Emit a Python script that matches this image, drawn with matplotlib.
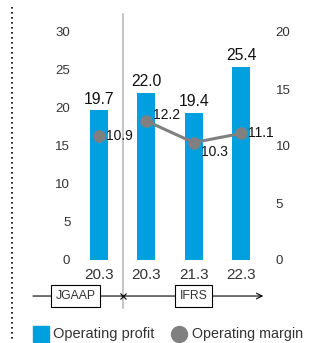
import matplotlib
matplotlib.use("Agg")
import matplotlib.pyplot as plt
from matplotlib.lines import Line2D
from matplotlib.patches import Rectangle

years = ["20.3", "20.3", "21.3", "22.3"]
operating_profit = [19.7, 22.0, 19.4, 25.4]
operating_margin = [10.9, 12.2, 10.3, 11.1]
left_ticks = [0, 5, 10, 15, 20, 25, 30]
right_ticks = [0, 5, 10, 15, 20]
standards = ["JGAAP", "IFRS"]

plt.rcParams['font.family'] = ['Liberation Sans', 'DejaVu Sans']
BLUE = "#00a0df"
GRAY = "#808080"
TXT = "#333333"

W, H = 329, 343
fig = plt.figure(figsize=(W / 100, H / 100), dpi=100)
ax_left, ax_right_px = 75.3, 264.7
ax_top, ax_bot = 32, 260
ax = fig.add_axes([ax_left / W, (H - ax_bot) / H, (ax_right_px - ax_left) / W, (ax_bot - ax_top) / H])
ax2 = ax.twinx()

x = list(range(len(years)))
ax.bar(x, operating_profit, width=0.38, color=BLUE, zorder=2)
ax.set_xlim(-0.5, 3.5)
ax.set_ylim(0, 30)
ax2.set_ylim(0, 20)
ax.set_yticks(left_ticks)
ax2.set_yticks(right_ticks)
ax.set_xticks(x)
ax.set_xticklabels(years)

for a in (ax, ax2):
    for s in a.spines.values():
        s.set_visible(False)
ax.tick_params(axis='y', length=0, pad=3.6, labelsize=9.5, labelcolor=TXT)
ax2.tick_params(axis='y', length=0, pad=8, labelsize=9.5, labelcolor=TXT)
ax.tick_params(axis='x', length=0, pad=5.5, labelsize=11, labelcolor=TXT)

for xi, v in zip(x, operating_profit):
    ax.annotate(f"{v:.1f}", (xi, v), xytext=(0, 2.5), textcoords="offset points",
                ha="center", va="bottom", fontsize=11.3, color="#111111")

# margin: standalone JGAAP point, connected IFRS points
ax2.plot(x[1:], operating_margin[1:], color=GRAY, lw=2.2, marker='o', ms=8, zorder=3)
ax2.plot(x[:1], operating_margin[:1], color=GRAY, lw=0, marker='o', ms=8, zorder=3)
offsets = [(5, 0), (5, 4), (5, -7), (5, 0)]
for xi, v, (dx, dy) in zip(x, operating_margin, offsets):
    ax2.annotate(f"{v:.1f}", (xi, v), xytext=(dx, dy), textcoords="offset points",
                 ha="left", va="center", fontsize=10, color="#111111")

# separator line
ax.plot([0.5, 0.5], [1.079, -0.21], transform=ax.get_xaxis_transform(), color="#bbbbbb",
        lw=1.2, clip_on=False, zorder=1)

# standards row
yrow = -0.158
ax.annotate("", xy=(3.47, yrow), xytext=(-1.394, yrow), xycoords=ax.get_xaxis_transform(),
            textcoords=ax.get_xaxis_transform(),
            arrowprops=dict(arrowstyle="->", color="black", lw=0.8, shrinkA=0, shrinkB=0),
            annotation_clip=False)
ax.plot([0.5], [yrow], transform=ax.get_xaxis_transform(), marker='x', ms=4, color="black",
        mew=0.8, clip_on=False)
for label, xc in zip(standards, [-0.496, 2.0]):
    ax.text(xc, yrow, label, transform=ax.get_xaxis_transform(), ha="center", va="center",
            fontsize=8.8, color=TXT,
            bbox=dict(boxstyle="square,pad=0.38", fc="white", ec="black", lw=0.8))

# dotted left line
fig.add_artist(Line2D([12 / W, 12 / W], [1 - 7 / H, 1 - 340 / H], color="black",
                      lw=1.2, linestyle=(0, (1, 2))))

# legend
ly = 334
fig.add_artist(Rectangle((33 / W, 1 - (ly + 8) / H), 16 / W, 16 / H, color=BLUE,
                         transform=fig.transFigure))
fig.text(53 / W, 1 - ly / H, "Operating profit", fontsize=10.5, color=TXT, va="center", ha="left")
fig.add_artist(Line2D([179 / W], [1 - ly / H], marker='o', ms=11.5, color=GRAY, lw=0))
fig.text(192 / W, 1 - ly / H, "Operating margin", fontsize=10.3, color=TXT, va="center", ha="left")

fig.savefig("out.png", dpi=100)
